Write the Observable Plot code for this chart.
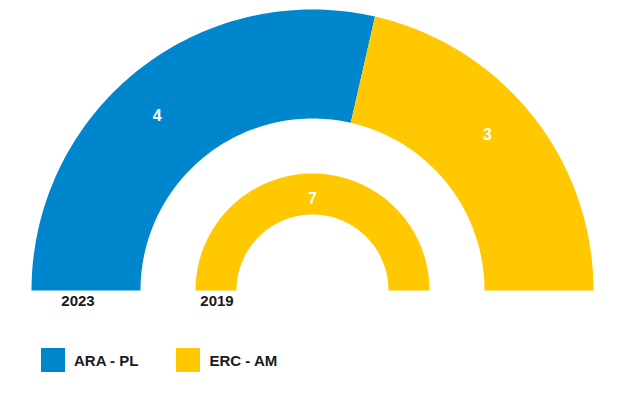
<!DOCTYPE html>
<html>
<head>
<meta charset="utf-8">
<script src="https://cdn.jsdelivr.net/npm/d3@7"></script>
<script src="https://cdn.jsdelivr.net/npm/@observablehq/plot@0.6"></script>
<style>
  html, body { margin: 0; padding: 0; background: #fff; }
  body { width: 623px; height: 393px; overflow: hidden; font-family: "Liberation Sans", Arial, sans-serif; }
  #legend { display: flex; align-items: center; margin-left: 41px; margin-top: 23px; }
  .item { display: flex; align-items: center; margin-right: 38px; }
  .sw { width: 24px; height: 24px; margin-right: 9px; }
  .lab { font-weight: bold; font-size: 15px; color: #1a1a1a; }
</style>
</head>
<body>
<div id="chart"></div>
<div id="legend"></div>
<script>
const parties = ["ARA - PL", "ERC - AM"];
const partyColors = ["#0086cd", "#ffc800"];
const years = ["2023", "2019"];
const seats2023 = [4, 3];
const seats2019 = [0, 7];

// layout constants (pixels in data units)
const rings = [
  {year: years[0], seats: seats2023, r0: 172, r1: 281, labelR: 234, labelTurn: 3, yearDx: -8},
  {year: years[1], seats: seats2019, r0: 76, r1: 117, labelR: 92, labelTurn: 0, yearDx: 1}
];

const polys = [];
const labels = [];
const yearLabels = [];
rings.forEach((ring) => {
  const total = d3.sum(ring.seats);
  let cum = 0;
  ring.seats.forEach((s, pi) => {
    if (s <= 0) return;
    const a0 = Math.PI - (cum / total) * Math.PI;
    const a1 = Math.PI - ((cum + s) / total) * Math.PI;
    cum += s;
    const id = ring.year + "-" + pi;
    const n = 80;
    for (let k = 0; k <= n; k++) {
      const a = a0 + (a1 - a0) * k / n;
      polys.push({id, party: parties[pi], x: ring.r1 * Math.cos(a), y: ring.r1 * Math.sin(a)});
    }
    for (let k = n; k >= 0; k--) {
      const a = a0 + (a1 - a0) * k / n;
      polys.push({id, party: parties[pi], x: ring.r0 * Math.cos(a), y: ring.r0 * Math.sin(a)});
    }
    const am = (a0 + a1) / 2 + ring.labelTurn * Math.PI / 180;
    labels.push({x: ring.labelR * Math.cos(am), y: ring.labelR * Math.sin(am), text: String(s)});
  });
  yearLabels.push({x: -(ring.r0 + ring.r1) / 2 + ring.yearDx, y: 0, text: ring.year});
});

const chart = Plot.plot({
  width: 623,
  height: 325,
  margin: 0,
  x: {type: "linear", domain: [-312, 311], range: [0, 623], axis: null},
  y: {type: "linear", domain: [0, 290], range: [290, 0], axis: null},
  color: {domain: parties, range: partyColors},
  style: {fontFamily: "Liberation Sans, Arial, sans-serif"},
  marks: [
    Plot.line(polys, {x: "x", y: "y", z: "id", fill: "party", stroke: null, curve: "linear-closed"}),
    Plot.text(labels, {x: "x", y: "y", text: "text", fill: "white", fontSize: 16, fontWeight: "bold"}),
    Plot.text(yearLabels, {x: "x", y: "y", text: "text", fill: "#1a1a1a", fontSize: 15, fontWeight: "bold", dy: 11})
  ]
});
document.getElementById("chart").appendChild(chart);

const legend = document.getElementById("legend");
parties.forEach((p, i) => {
  const item = document.createElement("div");
  item.className = "item";
  const sw = document.createElement("div");
  sw.className = "sw";
  sw.style.background = partyColors[i];
  const lab = document.createElement("span");
  lab.className = "lab";
  lab.textContent = p;
  item.appendChild(sw);
  item.appendChild(lab);
  legend.appendChild(item);
});
</script>
</body>
</html>
